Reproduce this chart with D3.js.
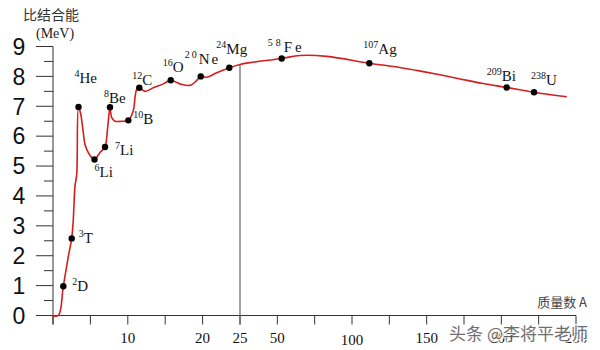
<!DOCTYPE html>
<html>
<head>
<meta charset="utf-8">
<script src="https://cdn.jsdelivr.net/npm/d3@7"></script>
<style>
  body { margin: 0; background: #fff; }
  svg { display: block; }
</style>
</head>
<body>
<div id="chart"></div>
<script>
/* binding-energy curve: mass number A and MeV per nucleon */
const curveA = [-0.2, 0.71, 1.38, 2.05, 2.5, 2.71, 2.94, 3.17, 3.41, 3.7, 4.01, 4.28, 4.72, 5.17, 5.55,
  6.28, 6.95, 7.31, 7.62, 7.85, 8.29, 9.18, 10.07, 10.74, 10.96, 11.19, 11.54, 12.3, 13.41,
  14.75, 15.74, 16.98, 18.32, 19.12, 19.75, 20.55, 21.88, 23.57, 25, 31.7, 52.9, 65.2, 83.1,
  111.6, 132.1, 147.7, 170.1, 187.9, 203.6, 221.9, 243.8];
const curveE = [0, 0, 0.98, 1.98, 2.58, 3.21, 4.33, 4.72, 6.98, 6.75, 6.2, 5.72, 5.45, 5.29, 5.22,
  5.45, 5.64, 6.29, 6.97, 6.62, 6.5, 6.5, 6.53, 6.86, 7.29, 7.56, 7.62, 7.5, 7.62,
  7.75, 7.87, 7.75, 7.7, 7.84, 8.0, 7.97, 8.12, 8.29, 8.4, 8.46, 8.6, 8.7, 8.67,
  8.44, 8.3, 8.16, 7.94, 7.76, 7.63, 7.47, 7.32];

/* marked nuclides */
const nuclideMass = ["2", "3", "4", "6", "7", "8", "10", "12", "16", "20", "24", "58", "107", "209", "238"];
const nuclideSymbol = ["D", "T", "He", "Li", "Li", "Be", "B", "C", "O", "Ne", "Mg", "Fe", "Ag", "Bi", "U"];
const nuclideA = [1.38, 2.5, 3.41, 5.55, 6.95, 7.62, 10.07, 11.54, 15.74, 19.75, 23.57, 52.9, 111.6, 203.6, 221.9];
const nuclideE = [0.98, 2.58, 6.98, 5.22, 5.64, 6.97, 6.53, 7.62, 7.87, 8.0, 8.29, 8.6, 8.44, 7.63, 7.47];

/* axis ticks */
const yTicks = [0, 1, 2, 3, 4, 5, 6, 7, 8, 9];
const yMinorTicks = [0.5, 1.5, 2.5, 3.5, 4.5, 5.5, 6.5, 7.5, 8.5];
const xTicks = [0, 5, 10, 15, 20, 25, 50, 75, 100, 125, 150, 175, 200, 225, 250];
const xTickLabels = [10, 20, 25, 50, 100, 150, 200, 250];

const width = 600;
const height = 350;

/* label placement next to each dot: [dx, dy, letter spacing] */
const labelLayout = [
  [9, 5, 0], [7, 5, 0], [-4, -24, 0], [0, 18, 0], [10, 8, 0], [-6, -4, 0], [5, 4, 0],
  [-7, -3, 0], [-8, -8, 0], [-16, -12, 2], [-13, -14, 0], [-14, -6, 3], [-6, -9, 0],
  [-20, -6, 0], [-3, -7, 0]
];

/* the x axis is broken at A = 25: first part stretched, the rest squeezed */
const x = d3.scaleLinear().domain([0, 25, 250]).range([53, 240, 576]);
const y = d3.scaleLinear().domain([0, 9]).range([315.5, 46.5]);

const svg = d3.select("#chart")
  .append("svg")
    .attr("width", width)
    .attr("height", height);

const axisColor = "#333";
const serif = "'Liberation Serif', 'Times New Roman', serif";

/* y axis */
svg.append("line")
  .attr("x1", x(0)).attr("x2", x(0))
  .attr("y1", y(9)).attr("y2", y(0) + 9)
  .attr("stroke", axisColor).attr("stroke-width", 1);

svg.selectAll(".ymaj")
  .data(yTicks)
  .join("line")
    .attr("x1", x(0) - 17).attr("x2", x(0))
    .attr("y1", d => y(d)).attr("y2", d => y(d))
    .attr("stroke", axisColor);

svg.selectAll(".ymin")
  .data(yMinorTicks)
  .join("line")
    .attr("x1", x(0) - 9).attr("x2", x(0))
    .attr("y1", d => y(d)).attr("y2", d => y(d))
    .attr("stroke", axisColor);

svg.selectAll(".ylab")
  .data(yTicks)
  .join("text")
    .attr("x", 19)
    .attr("y", d => y(d))
    .attr("dy", "0.36em")
    .attr("text-anchor", "middle")
    .attr("font-family", "'Liberation Sans', Arial, sans-serif")
    .attr("font-size", 23)
    .attr("fill", "#111")
    .text(d => d);

/* x axis */
svg.append("line")
  .attr("x1", x(0) - 17).attr("x2", x(250))
  .attr("y1", y(0)).attr("y2", y(0))
  .attr("stroke", axisColor);

svg.selectAll(".xtick")
  .data(xTicks)
  .join("line")
    .attr("x1", d => x(d)).attr("x2", d => x(d))
    .attr("y1", y(0)).attr("y2", y(0) + 9)
    .attr("stroke", axisColor);

svg.selectAll(".xlab")
  .data(xTickLabels)
  .join("text")
    .attr("x", d => x(d))
    .attr("y", d => d === 100 ? 345 : 343)
    .attr("text-anchor", "middle")
    .attr("font-family", serif)
    .attr("font-size", 15)
    .attr("fill", "#111")
    .text(d => d);

/* axis titles */
svg.append("text")
  .attr("x", 23).attr("y", 20)
  .attr("font-family", "'Noto Sans CJK SC', sans-serif")
  .attr("font-size", 14)
  .attr("fill", "#333")
  .text("比结合能");

svg.append("text")
  .attr("x", 36).attr("y", 38)
  .attr("font-family", serif)
  .attr("font-size", 14)
  .attr("fill", "#222")
  .text("(MeV)");

svg.append("text")
  .attr("x", 587).attr("y", 307)
  .attr("text-anchor", "end")
  .attr("font-family", "'Noto Sans CJK SC', sans-serif")
  .attr("font-size", 13)
  .attr("fill", "#444")
  .text("质量数 A");

/* gray marker at the axis break */
const curve = curveA.map((a, i) => [a, curveE[i]]);
svg.append("line")
  .attr("x1", x(25)).attr("x2", x(25))
  .attr("y1", y(8.4)).attr("y2", y(0) + 9)
  .attr("stroke", "#666").attr("stroke-width", 1.2);

/* the curve */
const line = d3.line()
  .x(d => x(d[0]))
  .y(d => y(d[1]))
  .curve(d3.curveCatmullRom.alpha(0.5));

svg.append("path")
  .datum(curve)
  .attr("d", line)
  .attr("fill", "none")
  .attr("stroke", "#d51e1e")
  .attr("stroke-width", 1.6);

/* nuclide dots and labels */
const nuclides = nuclideA.map((a, i) => ({
  a: a, e: nuclideE[i], mass: nuclideMass[i], sym: nuclideSymbol[i], lay: labelLayout[i]
}));

svg.selectAll(".dot")
  .data(nuclides)
  .join("circle")
    .attr("cx", d => x(d.a))
    .attr("cy", d => y(d.e))
    .attr("r", 3.2)
    .attr("fill", "#000");

const labels = svg.selectAll(".nlab")
  .data(nuclides)
  .join("text")
    .attr("x", d => x(d.a) + d.lay[0])
    .attr("y", d => y(d.e) + d.lay[1])
    .attr("font-family", serif)
    .attr("fill", "#111");

labels.append("tspan")
  .attr("font-size", 10)
  .attr("dy", -6)
  .attr("letter-spacing", d => d.lay[2])
  .text(d => d.mass);

labels.append("tspan")
  .attr("font-size", 15)
  .attr("dy", 6)
  .attr("letter-spacing", d => d.lay[2])
  .text(d => d.sym);

/* watermark */
svg.append("text")
  .attr("x", 588).attr("y", 340)
  .attr("text-anchor", "end")
  .attr("font-family", "'Noto Sans CJK SC', sans-serif")
  .attr("font-size", 17)
  .attr("fill", "#555")
  .attr("stroke", "#fff")
  .attr("stroke-width", 2.5)
  .attr("paint-order", "stroke")
  .attr("opacity", 0.85)
  .text("头条 @李将平老师");
</script>
</body>
</html>
